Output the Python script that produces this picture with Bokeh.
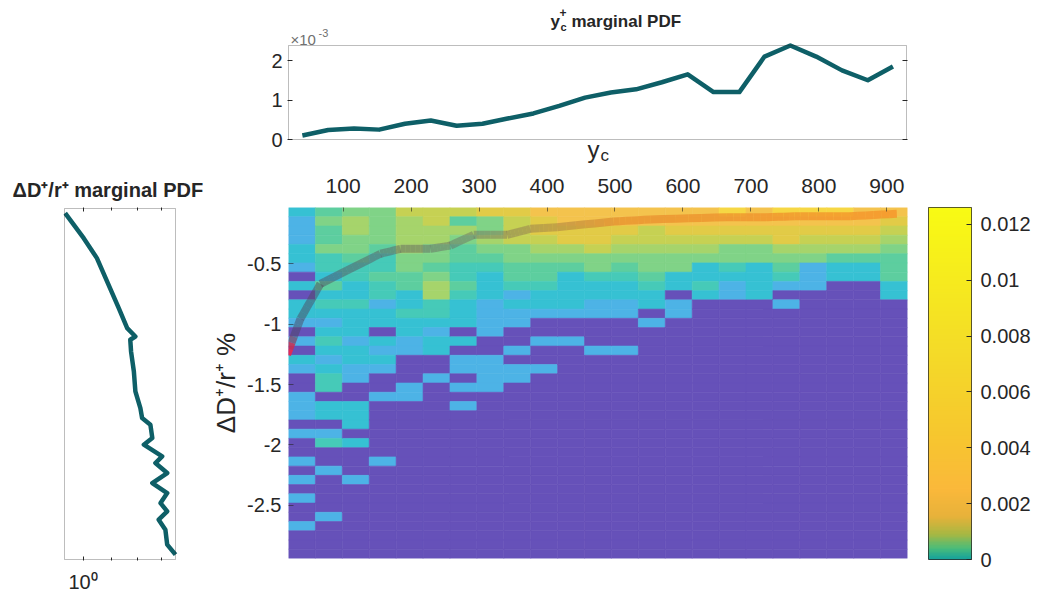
import numpy as np
from bokeh.plotting import figure
from bokeh.layouts import column, row
from bokeh.models import (Range1d, LinearAxis, LogAxis, FixedTicker, Label, Title, BoxAnnotation,
                          CustomJSTickFormatter, LinearColorMapper)
from bokeh.embed import file_html
from bokeh.resources import INLINE

W, H = 1043, 595
FONT = "Liberation Sans"
INK = "#262626"

# ----------------------------- data -----------------------------
# top: marginal PDF of y_c+ (in units of 1e-3)
yc_pdf_x = [40, 78, 116, 153, 191, 229, 267, 305, 342, 380, 418, 456,
            494, 531, 569, 607, 645, 683, 720, 758, 796, 834, 872, 909]
yc_pdf_e3 = [0.10, 0.24, 0.28, 0.25, 0.40, 0.48, 0.35, 0.40, 0.53, 0.66, 0.85, 1.06,
             1.19, 1.27, 1.45, 1.65, 1.20, 1.20, 2.10, 2.38, 2.10, 1.75, 1.50, 1.85]
pdf_ylim = [0, 2.38]

# left: marginal PDF of dD+/r+ (log x axis)
dD_pdf = [0.942, 1.002, 1.047, 1.083, 1.126, 1.158, 1.190, 1.170, 1.173, 1.184,
          1.190, 1.210, 1.217, 1.251, 1.259, 1.224, 1.301, 1.272, 1.323, 1.259,
          1.323, 1.294, 1.323, 1.286, 1.315, 1.323, 1.360]
dD_val = [-0.073, -0.280, -0.445, -0.638, -0.859, -1.025, -1.094, -1.121, -1.218, -1.383,
          -1.549, -1.687, -1.770, -1.825, -1.935, -1.990, -2.087, -2.142, -2.225, -2.308,
          -2.391, -2.474, -2.542, -2.611, -2.694, -2.818, -2.901]
dD_pdf_xlim = [0.94, 1.36]

# mean dD+/r+ as a function of y_c (overlay curve)
mean_yc = [17.6, 37.2, 66.6, 105.9, 154.9, 184.3, 228.4, 257.8, 292.1, 341.2,
           375.4, 414.7, 497.9, 551.9, 664.7, 723.5, 772.5, 846.0, 914.7]
mean_dD = [-1.253, -0.955, -0.666, -0.555, -0.417, -0.376, -0.376, -0.349, -0.260, -0.260,
           -0.210, -0.197, -0.150, -0.133, -0.114, -0.114, -0.106, -0.106, -0.086]

# joint PDF grid extents
yc_extent = [19.6, 930.4]
dD_extent = [-2.941, -0.034]
n_dD_bins = 38

# colour level of every cell, one string per y_c column, read top -> bottom (0 = empty)
cell_level_cols = [
    "21112210202210102100111010010101001000",
    "45445332423212321233022013001000010000",
    "56655433223222122110022202000100000000",
    "555543343312202121001000000100",
    "766665544223221100011",
    "77665545663321220010",
    "7465443343222020110101",
    "85565432221111001111",
    "87775544312110010110",
    "98876544322100100100",
    "99886542222100100000",
    "99887553221100010000",
    "99876543221100010000",
    "99776554322010000000",
    "99876552201100000000",
    "9987652232",
    "a987553211",
    "9987552222",
    "a9886543101",
    "a987651110",
    "a987642200",
    "9987642200",
    "9876544422",
]
level_colors = ["#6651B9", "#4DB3E6", "#36C1D3", "#46CAB8", "#5DCE9F", "#80D387",
                "#A6D46B", "#C6D153", "#E2CB47", "#F4C34D", "#F6D744"]

yc_ticks = [100, 200, 300, 400, 500, 600, 700, 800, 900]
dD_ticks = [-2.5, -2, -1.5, -1, -0.5]
pdf_ticks = [0, 1, 2]
cbar_ticks = [0, 0.002, 0.004, 0.006, 0.008, 0.01, 0.012]
cbar_range = [0, 0.0126]
cbar_stops = [(0.00, "#17A39C"), (0.03, "#4BBD7A"), (0.07, "#A8B843"), (0.12, "#E8B23A"),
              (0.20, "#FBB93B"), (0.35, "#F7C72F"), (0.60, "#F4DC28"), (1.00, "#F9FB14")]


# ----------------------------- helpers -----------------------------
def hex2rgb(h):
    h = h.lstrip("#")
    return [int(h[i:i + 2], 16) for i in (0, 2, 4)]


def ramp(stops, f):
    for (f0, c0), (f1, c1) in zip(stops[:-1], stops[1:]):
        if f <= f1:
            t = 0 if f1 == f0 else (f - f0) / (f1 - f0)
            a, b = np.array(c0, float), np.array(c1, float)
            return a + (b - a) * max(0.0, min(1.0, t))
    return np.array(stops[-1][1], float)


def panel(fw, fh, bl, br, bt, bb, **kw):
    p = figure(frame_width=fw, frame_height=fh, width=bl + fw + br, height=bt + fh + bb,
               output_backend="svg", toolbar_location=None,
               min_border_left=bl, min_border_right=br, min_border_top=bt, min_border_bottom=bb,
               x_axis_location=None, y_axis_location=None, **kw)
    p.outline_line_color = None
    p.grid.visible = False
    return p


def style_axis(ax, size=20, standoff=6, tick_in=5):
    ax.axis_line_color = None
    ax.major_tick_in = tick_in
    ax.major_tick_out = 0
    ax.minor_tick_line_color = None
    ax.major_tick_line_color = INK
    ax.major_label_text_font = FONT
    ax.major_label_text_font_size = f"{size}px"
    ax.major_label_text_color = INK
    ax.major_label_standoff = standoff


def txt(p, x, y, s, size, bold=False, color=INK, align="left", base="alphabetic", angle=0):
    p.add_layout(Label(x=x, y=y, x_units="canvas", y_units="canvas", text=s,
                       text_font=FONT, text_font_size=f"{size}px",
                       text_font_style="bold" if bold else "normal", text_color=color,
                       text_align=align, text_baseline=base, angle=angle))


TOP_H = 166          # page y 0..166 : top strip
PX_PER_YC = 619 / (yc_extent[1] - yc_extent[0])

# ----------------------------- top marginal -----------------------------
# frame spans the whole strip height so that the title and labels stay inside it;
# the visible box of the PDF axes is drawn as a BoxAnnotation at the axis limits.
box_top_px, box_bot_px = 45, 139
pdf_px = (box_bot_px - box_top_px) / (pdf_ylim[1] - pdf_ylim[0])
tp_y0 = pdf_ylim[0] - (TOP_H - box_bot_px) / pdf_px
tp_y1 = pdf_ylim[1] + box_top_px / pdf_px
tp_xlim = [yc_extent[0], yc_extent[0] + 618 / PX_PER_YC]
tp = panel(620, TOP_H, 287, W - 907, 0, 0,
           x_range=Range1d(tp_xlim[0] - 1 / PX_PER_YC, tp_xlim[1] + 1 / PX_PER_YC),
           y_range=Range1d(tp_y0, tp_y1))
tp.add_layout(BoxAnnotation(left=tp_xlim[0], right=tp_xlim[1], bottom=pdf_ylim[0], top=pdf_ylim[1],
                            fill_alpha=0, line_color=INK, line_width=1))
tp.line(yc_pdf_x, yc_pdf_e3, line_width=4.5, line_color="#0E5F67", line_join="round")
tya = LinearAxis(ticker=FixedTicker(ticks=pdf_ticks))
style_axis(tya, size=20, standoff=5)
tp.add_layout(tya, "left")
tyr = LinearAxis(ticker=FixedTicker(ticks=pdf_ticks),
                 formatter=CustomJSTickFormatter(code="return ''"))
style_axis(tyr, size=20, standoff=5)
tp.add_layout(tyr, "right")
# title  y_c^+ marginal PDF
txt(tp, 550, 21, "y", 17, bold=True)
txt(tp, 560, 26, "c", 11, bold=True)
txt(tp, 559, 12, "+", 12, bold=True)
txt(tp, 571, 21, "marginal PDF", 17, bold=True)
# exponent
txt(tp, 290, 39, "×10", 15, color="#707070")
txt(tp, 318, 32, "-3", 11, color="#707070")
# x label
txt(tp, 587, 149, "y", 24)
txt(tp, 600, 155, "c", 17)

# ----------------------------- left marginal -----------------------------
LW = 206             # page x 0..206
lf_log_px = 111 / np.log10(dD_pdf_xlim[1] / dD_pdf_xlim[0])
lf_x0 = 10 ** (np.log10(dD_pdf_xlim[0]) - 1 / lf_log_px)
lf_x1 = 10 ** (np.log10(dD_pdf_xlim[0]) + (LW - 64) / lf_log_px)
dD_px = 351 / (dD_extent[1] - dD_extent[0])
lf = panel(LW - 63, 353, 63, 0, 206 - TOP_H, H - 559, x_axis_type="log",
           x_range=Range1d(lf_x0, lf_x1),
           y_range=Range1d(dD_extent[0] - 1 / dD_px, dD_extent[1] + 1 / dD_px))
lf.add_layout(BoxAnnotation(left=dD_pdf_xlim[0], right=dD_pdf_xlim[1],
                            bottom=dD_extent[0], top=dD_extent[1],
                            fill_alpha=0, line_color=INK, line_width=1))
lf.line(dD_pdf, dD_val, line_width=4.5, line_color="#0E5F67", line_join="round")
for loc, fmt, so in (("below", "return '10⁰'", 10), ("above", "return ''", 0)):
    la = LogAxis(ticker=FixedTicker(ticks=[1], minor_ticks=[1.1, 1.2, 1.3]),
                 formatter=CustomJSTickFormatter(code=fmt))
    style_axis(la, size=20 if loc == "below" else 1, standoff=so, tick_in=4)
    la.minor_tick_line_color = INK
    la.minor_tick_in = 3
    la.minor_tick_out = 0
    lf.add_layout(la, loc)
lf.add_layout(Title(text="ΔD⁺/r⁺ marginal PDF", align="left", offset=-51, standoff=13,
                    text_font=FONT, text_font_size="20px", text_font_style="bold",
                    text_color=INK), "above")

# ----------------------------- heatmap -----------------------------
HMW = 918 - LW
hm = panel(619, 351, 288 - LW, HMW - (288 - LW) - 619, 207 - TOP_H, H - 558,
           x_range=Range1d(*yc_extent), y_range=Range1d(*dD_extent))
ncol = len(cell_level_cols)
xe = np.linspace(yc_extent[0], yc_extent[1], ncol + 1)
ye = np.linspace(dD_extent[1], dD_extent[0], n_dD_bins + 1)
L, R, T, B, C = [], [], [], [], []
for c, colstr in enumerate(cell_level_cols):
    for r, ch in enumerate(colstr.ljust(n_dD_bins, "0")):
        L.append(xe[c]); R.append(xe[c + 1]); T.append(ye[r]); B.append(ye[r + 1])
        C.append(level_colors[int(ch, 16)])
hm.quad(left=L, right=R, top=T, bottom=B, fill_color=C, line_color=C, line_width=0.6)

# overlay mean curve drawn as a colour-graded, semi-transparent stroke
line_stops = [(0.000, (232, 41, 79, 0.95)), (0.004, (232, 41, 79, 0.95)),
              (0.012, (77, 70, 95, 0.5)), (0.30, (111, 116, 102, 0.5)),
              (0.42, (165, 137, 74, 0.6)), (0.55, (232, 144, 46, 0.75)),
              (1.00, (247, 149, 42, 0.8))]
mx, my = np.array(mean_yc, float), np.array(mean_dD, float)
span = mx[-1] - mx[0]
segx, segy, segc = [], [], []
nsub = 6
for i in range(len(mx) - 1):
    for k in range(nsub):
        t0, t1 = k / nsub, (k + 1) / nsub
        x0, x1 = mx[i] + (mx[i + 1] - mx[i]) * t0, mx[i] + (mx[i + 1] - mx[i]) * t1
        y0, y1 = my[i] + (my[i + 1] - my[i]) * t0, my[i] + (my[i + 1] - my[i]) * t1
        f = (0.5 * (x0 + x1) - mx[0]) / span
        rgba = ramp(line_stops, f)
        segx.append([x0, x1]); segy.append([y0, y1])
        segc.append("#%02x%02x%02x%02x" % (int(rgba[0]), int(rgba[1]), int(rgba[2]), int(rgba[3] * 255)))
hm.multi_line(segx, segy, line_color=segc, line_width=8, line_cap="butt")

xa = LinearAxis(ticker=FixedTicker(ticks=yc_ticks))
style_axis(xa, size=21, standoff=15, tick_in=4)
xa.major_tick_line_alpha = 0.6
hm.add_layout(xa, "above")
ya = LinearAxis(ticker=FixedTicker(ticks=dD_ticks),
                formatter=CustomJSTickFormatter(code="return String(tick)"))
style_axis(ya, size=20, standoff=7, tick_in=5)
ya.major_tick_line_alpha = 0.6
ya.axis_label = "ΔD⁺/r⁺ %"
ya.axis_label_text_font = FONT
ya.axis_label_text_font_size = "26px"
ya.axis_label_text_font_style = "normal"
ya.axis_label_text_color = INK
ya.axis_label_standoff = 3
hm.add_layout(ya, "left")

# ----------------------------- colour bar -----------------------------
CBW = W - 918
cbf = panel(43, 352, 928 - 918, CBW - 10 - 43, 206 - TOP_H, H - 558,
            x_range=Range1d(0, 1), y_range=Range1d(*cbar_range))
cbf.outline_line_color = INK
cbf.outline_line_width = 1
stops_rgb = [(f, hex2rgb(c)) for f, c in cbar_stops]
cbar_palette = ["#%02x%02x%02x" % tuple(int(v) for v in ramp(stops_rgb, i / 255)) for i in range(256)]
cb_mapper = LinearColorMapper(palette=cbar_palette, low=cbar_range[0], high=cbar_range[1])
cbar_scale = np.linspace(cbar_range[0], cbar_range[1], 256).reshape(-1, 1)
cbf.image(image=[cbar_scale], x=0, y=cbar_range[0], dw=1, dh=cbar_range[1] - cbar_range[0],
          color_mapper=cb_mapper)
cya = LinearAxis(ticker=FixedTicker(ticks=cbar_ticks),
                 formatter=CustomJSTickFormatter(code="return String(Math.round(tick*1000)/1000)"))
style_axis(cya, size=20, standoff=9, tick_in=5)
cbf.add_layout(cya, "right")

page = column(tp, row(lf, hm, cbf, spacing=0), spacing=0)
open("out.html", "w").write(file_html(page, INLINE))
